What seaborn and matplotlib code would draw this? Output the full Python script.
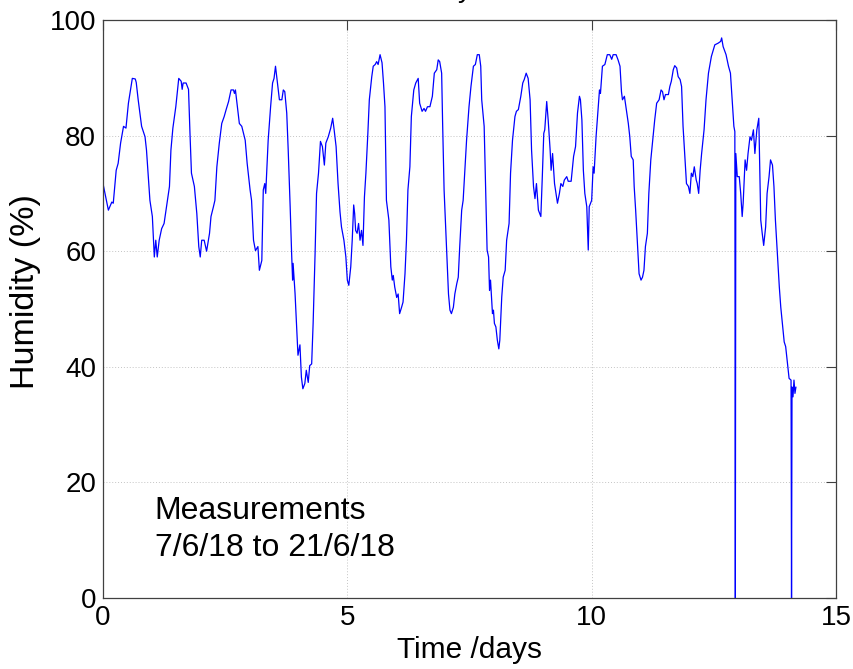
import matplotlib
matplotlib.use("Agg")
import matplotlib.pyplot as plt
import seaborn as sns
import pandas as pd

# Logged relative humidity, time in days from the start of logging
days = [
    0.00, 0.04, 0.11, 0.18, 0.21, 0.27, 0.31, 0.36, 0.42, 0.47, 0.52, 0.60, 0.66, 0.68,
    0.72, 0.79, 0.86, 0.89, 0.96, 1.01, 1.05, 1.08, 1.11, 1.15, 1.20, 1.25, 1.30, 1.36,
    1.39, 1.43, 1.49, 1.55, 1.60, 1.62, 1.64, 1.70, 1.75, 1.78, 1.81, 1.87, 1.92, 1.96,
    1.99, 2.02, 2.07, 2.12, 2.18, 2.21, 2.26, 2.29, 2.33, 2.38, 2.43, 2.48,
    2.52, 2.57, 2.62, 2.67, 2.69, 2.71, 2.75, 2.79, 2.84, 2.91, 2.95, 3.01, 3.04, 3.08,
    3.12, 3.17, 3.20, 3.25, 3.28, 3.31, 3.33, 3.38, 3.43, 3.47, 3.50, 3.53, 3.57, 3.61,
    3.66, 3.69, 3.72, 3.76, 3.79, 3.83, 3.86, 3.88, 3.89, 3.93, 3.96, 3.99, 4.03, 4.06,
    4.09, 4.13, 4.16, 4.20, 4.23, 4.27, 4.30, 4.34, 4.37, 4.41, 4.45, 4.49, 4.53, 4.56,
    4.61, 4.66, 4.70, 4.73, 4.77, 4.81,
    4.85, 4.88, 4.93, 4.97, 5.00, 5.03, 5.07, 5.10, 5.13, 5.15, 5.17, 5.20, 5.23, 5.26,
    5.29, 5.32, 5.35, 5.38, 5.42, 5.45, 5.50, 5.53, 5.57, 5.60, 5.63, 5.67, 5.71, 5.74,
    5.77, 5.80, 5.85, 5.89, 5.92, 5.94, 5.97, 6.01, 6.04, 6.07, 6.11, 6.14, 6.18, 6.21,
    6.24, 6.28, 6.31, 6.36, 6.40, 6.45, 6.48, 6.53, 6.57, 6.60, 6.64, 6.69, 6.74, 6.78,
    6.83, 6.86, 6.89, 6.93, 6.95, 6.98, 7.03, 7.07, 7.10, 7.13, 7.17, 7.20, 7.24, 7.27,
    7.30,
    7.34, 7.37, 7.41, 7.44, 7.49, 7.53, 7.58, 7.62, 7.66, 7.70, 7.73, 7.75, 7.80, 7.83,
    7.86, 7.89, 7.91, 7.93, 7.97, 7.99, 8.01, 8.04, 8.07, 8.10, 8.12, 8.16, 8.19, 8.23,
    8.26, 8.31, 8.34, 8.38, 8.43, 8.46, 8.50, 8.55, 8.59, 8.62, 8.66, 8.70, 8.74, 8.77,
    8.81, 8.84, 8.87, 8.91, 8.96, 8.99, 9.02, 9.04, 9.08, 9.11, 9.15, 9.17, 9.20, 9.24,
    9.27, 9.30, 9.34, 9.37, 9.41, 9.44, 9.49, 9.52, 9.58, 9.63, 9.67, 9.71, 9.75, 9.77,
    9.80, 9.83, 9.86, 9.90, 9.93, 9.95, 10.00, 10.03, 10.05, 10.09, 10.14, 10.16, 10.18,
    10.22, 10.27, 10.32, 10.37, 10.41, 10.44, 10.50, 10.54, 10.58, 10.61, 10.63, 10.67,
    10.70, 10.75, 10.78, 10.81, 10.85, 10.87, 10.90, 10.93, 10.97, 11.01, 11.04, 11.07,
    11.10, 11.14, 11.17, 11.21, 11.25, 11.29, 11.33, 11.38, 11.42, 11.45, 11.48, 11.51,
    11.57, 11.60, 11.63, 11.67, 11.70, 11.74, 11.77, 11.81, 11.84, 11.87, 11.91, 11.94,
    11.98, 12.01, 12.04, 12.07, 12.10, 12.14, 12.16, 12.19,
    12.22, 12.25, 12.30, 12.34, 12.39, 12.45, 12.52, 12.59, 12.64, 12.66, 12.69, 12.75,
    12.80, 12.84, 12.88, 12.91, 12.93, 12.94, 12.95, 12.98, 13.02, 13.05, 13.08, 13.10,
    13.14, 13.17, 13.20, 13.24, 13.27, 13.31, 13.34, 13.38, 13.42, 13.44, 13.46, 13.49,
    13.52, 13.56, 13.59, 13.63, 13.66, 13.70, 13.73, 13.76, 13.80, 13.84, 13.87, 13.91,
    13.94, 13.97, 14.00, 14.04, 14.08, 14.09, 14.10, 14.12, 14.14, 14.16, 14.18,
]

humidity = [
    71.7, 70.0, 67.1, 68.5, 68.3, 74.0, 75.2, 78.7, 81.6, 81.3, 85.6, 89.9, 89.8, 89.2,
    86.2, 81.6, 79.8, 77.5, 68.8, 66.0, 59.0, 61.9, 59.0, 61.9, 63.9, 64.8, 67.7, 71.2,
    77.5, 81.3, 85.0, 89.9, 89.4, 88.0, 89.1, 89.1, 88.0, 80.4, 73.5, 71.2, 66.5, 60.8,
    59.0, 61.9, 61.9, 60.0, 63.1, 66.0, 67.7, 68.8, 74.6, 78.7, 82.1, 83.3,
    84.5, 85.9, 87.9, 87.9, 87.3, 87.9, 85.0, 82.1, 81.6, 79.2, 75.2, 70.6, 68.8, 61.9,
    60.1, 60.8, 56.7, 58.4, 70.6, 71.7, 70.0, 79.2, 85.0, 89.1, 89.9, 92.0, 89.1, 86.2,
    86.2, 87.9, 87.6, 83.9, 77.5, 67.7, 59.6, 55.0, 57.9, 52.7, 47.5, 42.0, 43.8, 38.2,
    36.2, 37.1, 39.4, 37.3, 40.2, 40.5, 47.5, 59.6, 70.0, 73.5, 79.0, 78.1, 74.9, 78.7,
    79.8, 81.3, 83.0, 81.0, 78.1, 71.7,
    66.8, 64.2, 61.9, 59.0, 55.0, 54.1, 57.3, 61.9, 68.0, 66.5, 63.6, 63.1, 64.8, 61.9,
    63.6, 61.0, 69.4, 73.5, 80.4, 86.2, 90.2, 92.0, 92.3, 92.8, 92.3, 94.0, 92.6, 89.1,
    85.0, 68.8, 65.4, 57.3, 55.0, 55.8, 53.8, 52.0, 52.6, 49.2, 50.3, 51.2, 56.1, 61.9,
    70.6, 74.6, 83.3, 87.9, 89.1, 89.9, 85.6, 84.2, 84.7, 84.2, 85.0, 85.0, 86.8, 90.8,
    91.4, 93.1, 92.8, 90.8, 82.1, 70.6, 60.8, 52.6, 49.8, 49.2, 50.3, 52.6, 54.4, 55.5,
    60.8,
    67.1, 68.8, 74.6, 79.2, 85.0, 88.5, 92.0, 92.3, 94.0, 94.0, 92.0, 86.2, 81.6, 70.6,
    60.2, 59.0, 53.2, 55.0, 49.2, 49.8, 47.5, 46.9, 44.6, 43.1, 44.6, 52.1, 55.5, 56.7,
    61.9, 64.8, 73.5, 79.2, 83.3, 84.2, 84.5, 86.8, 89.1, 89.7, 90.8, 89.9, 86.2, 77.5,
    71.2, 69.1, 71.7, 67.1, 66.0, 72.9, 80.4, 81.0, 85.9, 82.7, 77.5, 74.0, 76.9, 71.7,
    70.0, 68.3, 70.0, 71.7, 71.2, 72.3, 72.9, 72.1, 72.1, 76.4, 78.1, 83.9, 86.8, 86.2,
    82.7, 74.0, 70.0, 67.7, 60.2, 67.7, 68.8, 74.6, 73.5, 79.8, 85.6, 87.9, 87.3,
    92.0, 92.3, 94.0, 94.0, 93.2, 94.0, 94.0, 93.1, 92.0, 87.6, 86.2, 86.8,
    85.0, 82.1, 79.8, 76.4, 75.8, 71.2, 67.1, 62.5, 56.1, 55.0, 55.5, 56.7,
    60.8, 63.1, 70.0, 75.8, 79.2, 82.7, 85.6, 86.2, 87.9, 87.6, 86.2, 87.1,
    87.1, 88.5, 89.4, 91.4, 92.1, 91.7, 90.2, 89.7, 88.5, 81.6, 75.8, 71.7,
    71.2, 70.0, 73.5, 72.9, 74.6, 72.3, 71.7, 70.0,
    74.0, 76.9, 81.0, 86.2, 90.8, 93.7, 95.7, 96.0, 96.3, 96.9, 95.4, 94.0,
    92.0, 90.8, 85.6, 81.6, 80.7, 0.0, 76.9, 72.9, 72.9, 70.0, 66.0, 68.3,
    75.8, 74.0, 76.9, 79.8, 79.2, 81.0, 76.9, 81.0, 83.0, 74.0, 65.4, 63.1,
    61.0, 64.2, 70.0, 72.9, 75.8, 74.9, 71.2, 65.4, 59.6, 53.8, 50.3, 46.9,
    44.3, 43.5, 41.2, 38.0, 37.7, 0.0, 36.5, 34.8, 37.7, 35.4, 36.5,
]

x_ticks = [0, 5, 10, 15]
y_ticks = [0, 20, 40, 60, 80, 100]

sns.set_style("white")
plt.rcParams["font.family"] = ["Liberation Sans", "DejaVu Sans"]
plt.rcParams["text.color"] = "black"
plt.rcParams["axes.labelcolor"] = "black"

fig = plt.figure(figsize=(8.54, 6.69), dpi=100)
ax = fig.add_axes([103 / 854, 1 - 598 / 669, 733 / 854, 578 / 669])

df = pd.DataFrame({"day": days, "humidity": humidity})
sns.lineplot(data=df, x="day", y="humidity", ax=ax, color=(0, 0, 1),
             linewidth=0.9, sort=False, estimator=None)

ax.set_xlim(0, 15)
ax.set_ylim(0, 100)
ax.set_xticks(x_ticks)
ax.set_yticks(y_ticks)
ax.grid(True, linestyle=(0, (1, 2)), color="#c4c4c4", linewidth=0.7)

ax.tick_params(direction="in", length=7, width=0.8, top=True, right=True,
               labelsize=20, color="#404040", labelcolor="black", pad=5)
for spine in ax.spines.values():
    spine.set_color("#404040")
    spine.set_linewidth(0.9)

ax.set_xlabel("Time /days", fontsize=21.5, labelpad=4)
ax.set_ylabel("Humidity (%)", fontsize=24.5)
ax.yaxis.set_label_coords(-0.085, 0.531)
ax.set_title("Humidity vs Time", fontsize=20, pad=16.5)

ax.text(1.06, 11.9, "Measurements\n7/6/18 to 21/6/18", fontsize=23,
        ha="left", va="center", linespacing=1.3)

fig.savefig("out.png", dpi=100)
